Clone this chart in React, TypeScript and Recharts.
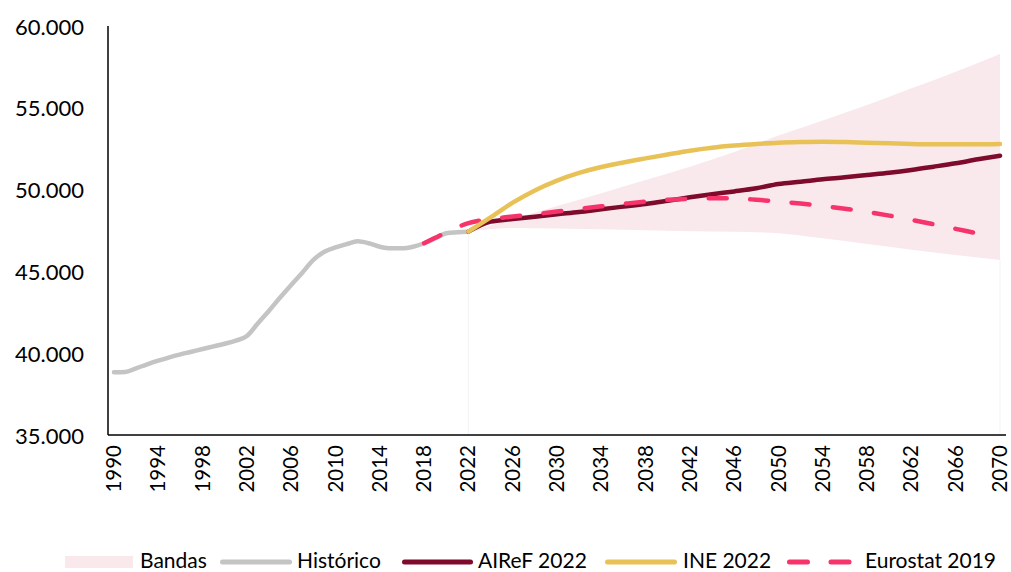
import React from 'react';
import { ComposedChart, Line, Area, XAxis, YAxis, Legend, ReferenceLine } from 'recharts';

// ---- Data (thousands of inhabitants, shown as 35.000 ... 60.000) ----
const histYears = [1990, 1991, 1992, 1993, 1994, 1995, 1996, 1997, 1998, 1999, 2000, 2001, 2002, 2003, 2004, 2005, 2006, 2007, 2008, 2009, 2010, 2011, 2012, 2013, 2014, 2015, 2016, 2017, 2018, 2019, 2020, 2021, 2022];
const historico = [38830, 38850, 39080, 39320, 39540, 39750, 39930, 40090, 40260, 40420, 40580, 40770, 41050, 41830, 42600, 43400, 44170, 44920, 45700, 46200, 46470, 46670, 46840, 46720, 46510, 46410, 46410, 46510, 46720, 47020, 47330, 47390, 47430];

const projYears = [2022, 2024, 2026, 2028, 2030, 2032, 2034, 2036, 2038, 2040, 2042, 2044, 2046, 2048, 2050, 2052, 2054, 2056, 2058, 2060, 2062, 2064, 2066, 2068, 2070];
const airef2022 = [47430, 48040, 48200, 48340, 48490, 48630, 48800, 48960, 49120, 49320, 49530, 49720, 49890, 50080, 50340, 50480, 50630, 50750, 50890, 51030, 51200, 51400, 51610, 51850, 52070];
const ine2022 = [47430, 48300, 49200, 49950, 50550, 51020, 51380, 51660, 51910, 52150, 52380, 52560, 52690, 52790, 52870, 52910, 52930, 52910, 52870, 52830, 52790, 52770, 52770, 52770, 52790];

const euroYears = [2018, 2019, 2020, 2021, 2022, 2023, 2024, 2026, 2028, 2030, 2032, 2034, 2036, 2038, 2040, 2042, 2044, 2046, 2048, 2050, 2052, 2054, 2056, 2058, 2060, 2062, 2064, 2066, 2068];
const eurostat2019 = [46720, 47050, 47400, 47700, 47950, 48100, 48200, 48350, 48500, 48660, 48820, 48980, 49130, 49270, 49380, 49440, 49470, 49460, 49380, 49270, 49150, 49000, 48830, 48640, 48410, 48150, 47880, 47600, 47320];

const bandYears = [2022, 2026, 2030, 2034, 2038, 2042, 2046, 2050, 2054, 2058, 2062, 2066, 2070];
const bandLow = [47430, 47650, 47620, 47570, 47520, 47460, 47420, 47330, 47020, 46670, 46330, 46000, 45700];
const bandHigh = [47430, 48200, 49000, 49780, 50580, 51400, 52300, 53300, 54230, 55170, 56190, 57210, 58290];

const xTicks = [1990, 1994, 1998, 2002, 2006, 2010, 2014, 2018, 2022, 2026, 2030, 2034, 2038, 2042, 2046, 2050, 2054, 2058, 2062, 2066, 2070];
const yTicks = [35000, 40000, 45000, 50000, 55000, 60000];

const legendLabels = ['Bandas', 'Histórico', 'AIReF 2022', 'INE 2022', 'Eurostat 2019'];

// ---- Styles ----
const FONT = 'Lato, "Open Sans", sans-serif';
const C_BAND = '#F9E9ED';
const C_HIST = '#C4C4C4';
const C_AIREF = '#7E0A2C';
const C_INE = '#E9C257';
const C_EURO = '#F7336B';
const DASH = '18 23.5';

// Build the table from the arrays
type Row = { year: number; hist?: number; airef?: number; ine?: number; euro?: number; band?: [number, number] };
const rowMap = new Map<number, Row>();
const getRow = (y: number) => {
  if (!rowMap.has(y)) rowMap.set(y, { year: y });
  return rowMap.get(y)!;
};
histYears.forEach((y, i) => (getRow(y).hist = historico[i]));
projYears.forEach((y, i) => {
  getRow(y).airef = airef2022[i];
  getRow(y).ine = ine2022[i];
});
euroYears.forEach((y, i) => (getRow(y).euro = eurostat2019[i]));
bandYears.forEach((y, i) => (getRow(y).band = [bandLow[i], bandHigh[i]]));
const data = Array.from(rowMap.values()).sort((a, b) => a.year - b.year);

const fmt = (v: number) => String(v).replace(/\B(?=(\d{3})+(?!\d))/g, '.');

const XTick = (props: any) => {
  const { x, y, payload } = props;
  const lx = x - 1;
  return (
    <text
      x={lx}
      y={y}
      transform={`rotate(-90, ${lx}, ${y})`}
      textAnchor="end"
      dominantBaseline="central"
      fontFamily={FONT}
      fontSize={20.5}
      fill="#000"
    >
      {payload.value}
    </text>
  );
};

const YTick = (props: any) => {
  const { x, y, payload } = props;
  return (
    <text x={x} y={y} textAnchor="end" dominantBaseline="central" fontFamily={FONT} fontSize={22} fill="#000">
      {fmt(payload.value)}
    </text>
  );
};

const LegendContent = () => {
  const cy = 15;
  const tb = 21;
  const textProps = { fontFamily: FONT, fontSize: 21, fill: '#000' } as const;
  return (
    <svg width={1011} height={30} style={{ display: 'block' }}>
      <rect x={65} y={cy - 6} width={68} height={12} fill={C_BAND} />
      <text x={140} y={tb} {...textProps}>{legendLabels[0]}</text>
      <line x1={222.5} x2={289.5} y1={cy} y2={cy} stroke={C_HIST} strokeWidth={5} strokeLinecap="round" />
      <text x={297} y={tb} {...textProps}>{legendLabels[1]}</text>
      <line x1={404.5} x2={470.5} y1={cy} y2={cy} stroke={C_AIREF} strokeWidth={5} strokeLinecap="round" />
      <text x={478} y={tb} {...textProps}>{legendLabels[2]}</text>
      <line x1={607.5} x2={674.5} y1={cy} y2={cy} stroke={C_INE} strokeWidth={5} strokeLinecap="round" />
      <text x={683} y={tb} {...textProps}>{legendLabels[3]}</text>
      <line x1={789.5} x2={850} y1={cy} y2={cy} stroke={C_EURO} strokeWidth={5} strokeLinecap="round" strokeDasharray={DASH} />
      <text x={865} y={tb} {...textProps}>{legendLabels[4]}</text>
    </svg>
  );
};

export default function App() {
  return (
    <div style={{ position: 'absolute', left: 0, top: 0, width: 1011, height: 572, background: '#fff' }}>
      <ComposedChart width={1011} height={572} data={data} margin={{ top: 26, right: 5, left: 0, bottom: 77 }}>
        <XAxis
          dataKey="year"
          type="number"
          domain={[1990, 2070]}
          ticks={xTicks}
          interval={0}
          padding={{ left: 6, right: 6 }}
          height={60}
          tickLine={false}
          tickSize={0}
          tickMargin={10}
          axisLine={{ stroke: '#000', strokeWidth: 1.5 }}
          tick={<XTick />}
        />
        <YAxis
          type="number"
          domain={[35000, 60000]}
          ticks={yTicks}
          width={108}
          tickLine={false}
          tickSize={0}
          tickMargin={24}
          axisLine={{ stroke: '#000', strokeWidth: 1.5 }}
          tick={<YTick />}
        />
        <Area
          type="monotone"
          dataKey="band"
          fill={C_BAND}
          fillOpacity={1}
          stroke="none"
          connectNulls
          isAnimationActive={false}
          dot={false}
          activeDot={false}
        />
        <ReferenceLine segment={[{ x: 2022, y: 35000 }, { x: 2022, y: 47430 }]} stroke="#F3F3F3" strokeWidth={1} />
        <ReferenceLine segment={[{ x: 2070, y: 35000 }, { x: 2070, y: 45700 }]} stroke="#F3F3F3" strokeWidth={1} />
        <Line type="monotone" dataKey="hist" stroke={C_HIST} strokeWidth={4.5} strokeLinecap="round" dot={false} activeDot={false} connectNulls isAnimationActive={false} />
        <Line type="monotone" dataKey="airef" stroke={C_AIREF} strokeWidth={4.5} strokeLinecap="round" dot={false} activeDot={false} connectNulls isAnimationActive={false} />
        <Line type="monotone" dataKey="euro" stroke={C_EURO} strokeWidth={4.5} strokeLinecap="round" strokeDasharray={DASH} dot={false} activeDot={false} connectNulls isAnimationActive={false} />
        <Line type="monotone" dataKey="ine" stroke={C_INE} strokeWidth={4.5} strokeLinecap="round" dot={false} activeDot={false} connectNulls isAnimationActive={false} />
        <Legend
          layout="horizontal"
          verticalAlign="middle"
          align="center"
          wrapperStyle={{ top: 547, left: 0, width: 1011, height: 30 }}
          content={() => <LegendContent />}
        />
      </ComposedChart>
    </div>
  );
}
